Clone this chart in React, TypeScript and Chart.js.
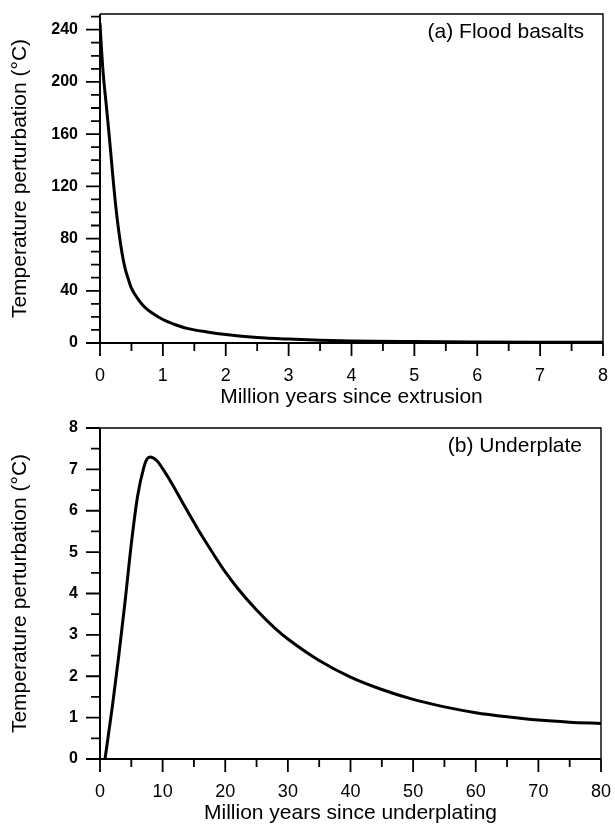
import React, { useEffect, useRef } from 'react';
import { Chart, registerables } from 'chart.js';

Chart.register(...registerables);

// Panel (a): Flood basalts
const floodX = [0, 0.02, 0.05, 0.1, 0.15, 0.2, 0.25, 0.3, 0.35, 0.4, 0.45, 0.5, 0.6, 0.7, 0.8, 1.0, 1.2, 1.4, 1.7, 2.0, 2.5, 3.0, 3.5, 4, 5, 6, 7, 8];
const floodY = [245, 228, 207, 182, 157, 130, 105, 85, 69, 57, 49, 42, 34, 28, 24, 18, 14, 11, 8.5, 6.5, 4.2, 3, 2.2, 1.6, 1.1, 0.8, 0.6, 0.5];
const floodXTicks = [0, 1, 2, 3, 4, 5, 6, 7, 8];
const floodXMinor = [0.5, 1.5, 2.5, 3.5, 4.5, 5.5, 6.5, 7.5];
const floodYTicks = [0, 40, 80, 120, 160, 200, 240];
const floodYMinor = [10, 20, 30, 50, 60, 70, 90, 100, 110, 130, 140, 150, 170, 180, 190, 210, 220, 230, 250];

// Panel (b): Underplate
const underX = [0.8, 2, 3, 4, 5, 6, 7, 7.5, 8, 9, 10, 11, 12, 13, 14, 15, 16, 18, 20, 22, 25, 28, 30, 35, 40, 45, 50, 55, 60, 65, 70, 75, 80];
const underY = [0, 1.3, 2.5, 3.8, 5.2, 6.35, 7.05, 7.25, 7.3, 7.22, 7.02, 6.78, 6.52, 6.25, 5.98, 5.72, 5.46, 4.98, 4.52, 4.12, 3.6, 3.15, 2.9, 2.38, 1.98, 1.68, 1.44, 1.26, 1.12, 1.02, 0.94, 0.89, 0.86];
const underXTicks = [0, 10, 20, 30, 40, 50, 60, 70, 80];
const underXMinor = [5, 15, 25, 35, 45, 55, 65, 75];
const underYTicks = [0, 1, 2, 3, 4, 5, 6, 7, 8];
const underYMinor = [0.5, 1.5, 2.5, 3.5, 4.5, 5.5, 6.5, 7.5];

const FONT = "'Liberation Sans', Arial, Helvetica, sans-serif";

type PanelSpec = {
  xs: number[];
  ys: number[];
  xMin: number; xMax: number; yMin: number; yMax: number;
  xTicks: number[]; xMinor: number[]; yTicks: number[]; yMinor: number[];
  xTitle: string; yTitle: string; label: string;
  padTop: number; padRight: number; leftWidth: number; bottomHeight: number;
  height: number;
};

function zeroPad(s: any) {
  s.paddingLeft = 0;
  s.paddingRight = 0;
  s.paddingTop = 0;
  s.paddingBottom = 0;
}

function framePlugin(spec: PanelSpec) {
  return {
    id: 'frameTicks',
    afterDraw(chart: any) {
      const { ctx, chartArea } = chart;
      const { left, right, top, bottom } = chartArea;
      const xs = chart.scales.x;
      const ys = chart.scales.y;
      ctx.save();
      ctx.strokeStyle = '#000';
      ctx.lineCap = 'butt';
      ctx.lineWidth = 1.4;
      ctx.beginPath();
      ctx.moveTo(left, top);
      ctx.lineTo(right, top);
      ctx.lineTo(right, bottom);
      ctx.stroke();
      ctx.lineWidth = 2;
      ctx.beginPath();
      ctx.moveTo(left, top);
      ctx.lineTo(left, bottom);
      ctx.lineTo(right, bottom);
      ctx.stroke();
      ctx.lineWidth = 1.8;
      ctx.beginPath();
      spec.xTicks.forEach((v) => {
        const p = xs.getPixelForValue(v);
        ctx.moveTo(p, bottom);
        ctx.lineTo(p, bottom + 13);
      });
      spec.xMinor.forEach((v) => {
        const p = xs.getPixelForValue(v);
        ctx.moveTo(p, bottom);
        ctx.lineTo(p, bottom + 8);
      });
      spec.yTicks.forEach((v) => {
        const p = ys.getPixelForValue(v);
        ctx.moveTo(left, p);
        ctx.lineTo(left - 14, p);
      });
      spec.yMinor.forEach((v) => {
        const p = ys.getPixelForValue(v);
        ctx.moveTo(left, p);
        ctx.lineTo(left - 9, p);
      });
      ctx.stroke();
      ctx.fillStyle = '#000';
      ctx.font = `21px ${FONT}`;
      ctx.textAlign = 'right';
      ctx.textBaseline = 'middle';
      ctx.fillText(spec.label, right - 19, top + 18);
      ctx.restore();
    },
  };
}

function Panel({ spec, top }: { spec: PanelSpec; top: number }) {
  const ref = useRef<HTMLCanvasElement | null>(null);
  useEffect(() => {
    if (!ref.current) return;
    const points = spec.xs.map((x, i) => ({ x, y: spec.ys[i] }));
    const chart = new Chart(ref.current, {
      type: 'scatter',
      data: {
        datasets: [
          {
            data: points,
            showLine: true,
            borderColor: '#000',
            backgroundColor: '#000',
            borderWidth: 3,
            pointRadius: 0,
            cubicInterpolationMode: 'monotone',
          } as any,
        ],
      },
      options: {
        animation: false,
        responsive: false,
        maintainAspectRatio: false,
        layout: { autoPadding: false, padding: { top: spec.padTop, right: spec.padRight, left: 0, bottom: 0 } },
        plugins: { legend: { display: false }, tooltip: { enabled: false } },
        scales: {
          x: {
            type: 'linear',
            min: spec.xMin,
            max: spec.xMax,
            grid: { display: false, drawTicks: false },
            border: { display: false },
            afterBuildTicks: (s: any) => { s.ticks = spec.xTicks.map((v) => ({ value: v })); },
            afterFit: (s: any) => { s.height = spec.bottomHeight; zeroPad(s); },
            ticks: {
              autoSkip: false,
              maxRotation: 0,
              padding: 22,
              color: '#000',
              font: { family: FONT, size: 18 },
              callback: (v: any) => String(v),
            },
            title: {
              display: true,
              text: spec.xTitle,
              color: '#000',
              font: { family: FONT, size: 21, lineHeight: 1.2 },
              padding: { top: 0, bottom: 0 },
            },
          },
          y: {
            type: 'linear',
            min: spec.yMin,
            max: spec.yMax,
            grid: { display: false, drawTicks: false },
            border: { display: false },
            afterBuildTicks: (s: any) => { s.ticks = spec.yTicks.map((v) => ({ value: v })); },
            afterFit: (s: any) => { s.width = spec.leftWidth; zeroPad(s); },
            ticks: {
              autoSkip: false,
              padding: 22,
              color: '#000',
              font: { family: FONT, size: 16, weight: 'bold' },
              callback: (v: any) => String(v),
            },
            title: {
              display: true,
              text: spec.yTitle,
              color: '#000',
              font: { family: FONT, size: 21, lineHeight: 1.2 },
              padding: { top: 8, bottom: 0 },
            },
          },
        },
      },
      plugins: [framePlugin(spec)],
    });
    return () => chart.destroy();
  }, [spec]);
  return (
    <canvas
      ref={ref}
      width={615}
      height={spec.height}
      style={{ position: 'absolute', left: 0, top, width: 615, height: spec.height }}
    />
  );
}

const specA: PanelSpec = {
  xs: floodX, ys: floodY,
  xMin: 0, xMax: 8, yMin: 0, yMax: 252,
  xTicks: floodXTicks, xMinor: floodXMinor, yTicks: floodYTicks, yMinor: floodYMinor,
  xTitle: 'Million years since extrusion',
  yTitle: 'Temperature perturbation (°C)',
  label: '(a) Flood basalts',
  padTop: 14, padRight: 12, leftWidth: 100, bottomHeight: 67, height: 410,
};

const specB: PanelSpec = {
  xs: underX, ys: underY,
  xMin: 0, xMax: 80, yMin: 0, yMax: 8,
  xTicks: underXTicks, xMinor: underXMinor, yTicks: underYTicks, yMinor: underYMinor,
  xTitle: 'Million years since underplating',
  yTitle: 'Temperature perturbation (°C)',
  label: '(b) Underplate',
  padTop: 18, padRight: 14, leftWidth: 100, bottomHeight: 67, height: 416,
};

export default function App() {
  return (
    <div style={{ position: 'absolute', left: 0, top: 0, width: 615, height: 826, background: '#fff' }}>
      <Panel spec={specA} top={0} />
      <Panel spec={specB} top={410} />
    </div>
  );
}
